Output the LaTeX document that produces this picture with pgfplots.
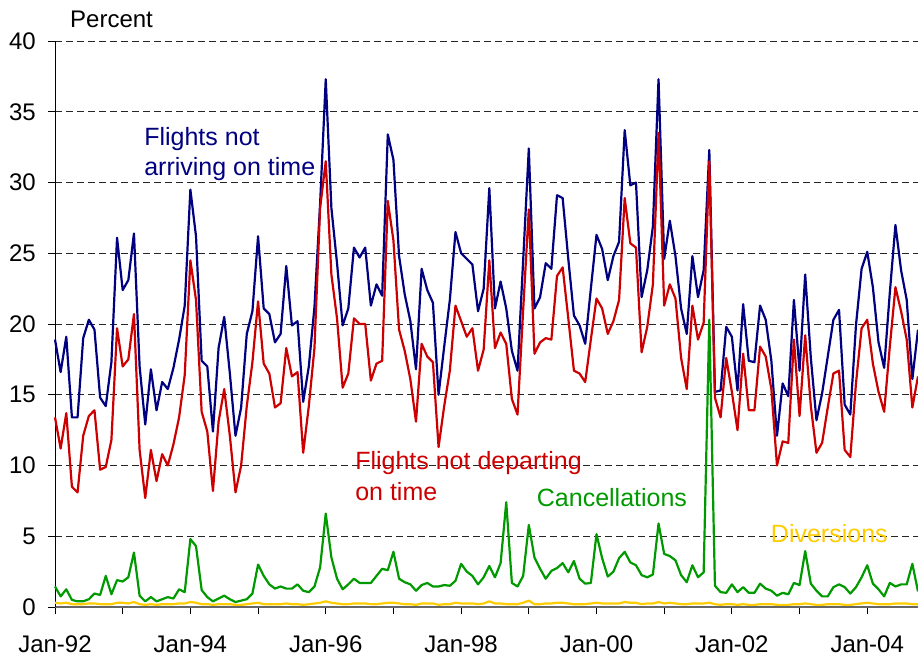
\documentclass[border=0pt]{standalone}
\usepackage{pgfplots}
\pgfplotsset{compat=1.18}
\usepackage{pgfplotstable}
\usepackage{fontspec}
\setmainfont{Liberation Sans}
\definecolor{arrc}{RGB}{0,0,128}
\definecolor{depc}{RGB}{204,0,0}
\definecolor{canc}{RGB}{0,153,0}
\definecolor{divc}{RGB}{255,204,0}

\pgfplotstableread{
arr dep can div
18.9 13.4 1.45 0.30
16.6 11.2 0.75 0.25
19.1 13.7 1.25 0.30
13.4 8.5 0.50 0.20
13.4 8.1 0.40 0.20
19.0 12.1 0.40 0.20
20.3 13.5 0.55 0.25
19.6 13.9 0.95 0.25
14.8 9.7 0.85 0.20
14.2 9.9 2.20 0.20
17.3 11.8 0.90 0.20
26.1 19.7 1.90 0.30
22.4 17.0 1.80 0.30
23.1 17.5 2.10 0.25
26.4 20.7 3.85 0.35
17.0 11.1 0.80 0.20
12.9 7.7 0.40 0.15
16.8 11.1 0.70 0.20
13.9 8.9 0.40 0.15
15.9 10.8 0.55 0.20
15.4 10.0 0.70 0.20
16.9 11.5 0.60 0.20
18.9 13.4 1.25 0.25
21.3 16.4 1.05 0.25
29.5 24.5 4.80 0.35
26.2 21.7 4.30 0.30
17.4 13.8 1.20 0.20
17.0 12.4 0.70 0.20
12.4 8.2 0.40 0.15
18.3 13.1 0.60 0.20
20.5 15.4 0.80 0.20
16.5 12.1 0.55 0.20
12.1 8.1 0.35 0.15
14.1 10.0 0.45 0.15
19.3 14.2 0.55 0.20
20.9 17.3 0.95 0.25
26.2 21.6 3.00 0.30
21.1 17.2 2.20 0.20
20.7 16.5 1.60 0.20
18.7 14.1 1.30 0.20
19.3 14.4 1.45 0.20
24.1 18.3 1.30 0.25
19.9 16.3 1.30 0.20
20.2 16.6 1.60 0.20
14.5 10.9 1.15 0.15
17.0 14.2 1.05 0.20
21.2 18.3 1.45 0.25
28.5 28.2 2.80 0.30
37.3 31.5 6.60 0.40
28.2 23.5 3.50 0.30
24.3 20.4 2.00 0.25
19.9 15.5 1.25 0.20
21.1 16.5 1.60 0.20
25.4 20.4 2.00 0.25
24.7 20.0 1.70 0.25
25.4 20.0 1.70 0.25
21.3 16.0 1.70 0.20
22.8 17.2 2.20 0.20
22.0 17.4 2.70 0.25
33.4 28.7 2.60 0.30
31.6 25.9 3.90 0.30
24.8 19.6 2.00 0.25
22.1 18.1 1.75 0.20
20.2 16.1 1.60 0.20
16.8 13.1 1.15 0.15
23.9 18.6 1.55 0.25
22.4 17.7 1.70 0.25
21.5 17.3 1.45 0.25
15.0 11.3 1.45 0.15
18.4 14.2 1.55 0.20
21.7 16.7 1.50 0.20
26.5 21.3 1.85 0.30
25.0 20.2 3.05 0.25
24.6 19.1 2.50 0.25
24.2 19.7 2.20 0.25
20.9 16.7 1.60 0.20
22.5 18.2 2.10 0.25
29.6 24.5 2.90 0.40
21.1 18.3 2.10 0.25
23.0 19.4 3.10 0.25
21.1 18.6 7.40 0.20
18.1 14.7 1.70 0.20
16.7 13.6 1.45 0.20
24.5 21.0 2.20 0.30
32.4 28.1 5.80 0.45
21.1 17.9 3.50 0.20
21.9 18.7 2.70 0.20
24.3 19.0 2.00 0.25
23.9 18.9 2.55 0.25
29.1 23.4 2.75 0.30
28.9 24.0 3.10 0.30
24.6 20.4 2.45 0.25
20.6 16.7 3.25 0.20
19.9 16.5 2.00 0.20
18.6 15.9 1.65 0.20
22.5 18.9 1.70 0.25
26.3 21.8 5.15 0.30
25.3 21.1 3.45 0.25
23.1 19.3 2.15 0.25
24.8 20.2 2.50 0.25
25.8 21.7 3.45 0.25
33.7 28.9 3.90 0.35
29.8 25.7 3.15 0.30
30.0 25.4 2.95 0.30
21.9 18.0 2.25 0.20
23.8 19.8 2.10 0.25
26.9 22.8 2.30 0.25
37.3 33.5 5.90 0.35
24.6 21.3 3.75 0.25
27.3 22.8 3.60 0.30
24.8 21.8 3.30 0.25
21.1 17.6 2.25 0.20
19.3 15.4 1.75 0.20
24.8 21.3 2.95 0.25
21.9 18.9 2.10 0.25
23.8 20.1 2.45 0.25
32.3 31.5 20.30 0.30
15.2 14.8 1.50 0.20
15.3 13.4 1.05 0.15
19.8 17.6 1.00 0.20
19.1 15.2 1.60 0.20
15.3 12.5 1.05 0.15
21.4 17.9 1.40 0.20
17.4 13.9 1.00 0.15
17.3 13.9 1.00 0.15
21.3 18.4 1.65 0.20
20.3 17.7 1.30 0.20
17.4 15.4 1.15 0.20
12.1 10.0 0.80 0.15
15.8 11.7 1.00 0.15
14.9 11.6 0.90 0.15
21.7 18.9 1.70 0.20
16.7 13.5 1.55 0.20
23.5 19.2 3.95 0.25
17.6 14.2 1.65 0.20
13.2 10.9 1.15 0.15
15.1 11.6 0.75 0.15
17.7 14.1 0.75 0.20
20.3 16.5 1.40 0.20
21.0 16.7 1.60 0.20
14.3 11.1 1.40 0.15
13.6 10.6 0.95 0.15
19.9 15.8 1.40 0.20
23.9 19.7 2.10 0.25
25.1 20.3 2.95 0.30
22.6 17.2 1.65 0.25
18.7 15.2 1.25 0.20
16.9 13.8 0.75 0.20
22.2 18.4 1.70 0.20
27.0 22.6 1.45 0.25
23.8 20.9 1.60 0.25
21.7 18.9 1.60 0.25
16.1 14.1 3.05 0.20
19.6 16.3 1.10 0.20
}\data

\begin{document}
\begin{tikzpicture}[font=\fontsize{24bp}{28bp}\selectfont]
\path[use as bounding box] (0,0) rectangle (918bp,656bp);
\begin{axis}[
  at={(55bp,49bp)}, anchor=south west,
  width=863bp, height=566bp, scale only axis,
  xmin=0, xmax=153, ymin=0, ymax=40,
  axis lines*=left,
  axis line style={black, line width=0.8bp},
  x axis line style={draw=black!60, line width=1.2bp},
  xtick={0,24,...,144},
  xticklabels={Jan-92,Jan-94,Jan-96,Jan-98,Jan-00,Jan-02,Jan-04},
  minor xtick={12,36,...,132},
  ytick={0,5,...,40},
  tick align=outside,
  major tick length=7bp, minor tick length=7bp,
  tick style={black, line width=0.8bp},
  ymajorgrids,
  major grid style={black!85, line width=0.7bp, dash pattern=on 7bp off 4bp},
  ticklabel style={font=\fontsize{24bp}{28bp}\selectfont},
  /pgf/number format/assume math mode=true,
  xticklabel style={anchor=base, inner sep=0pt, yshift=-38bp},
  yticklabel style={anchor=east, inner sep=0pt, xshift=-12bp},
  clip=false,
  every axis plot/.append style={line width=2.2bp, line join=round, no markers},
]
\addplot[arrc] table[x expr=\coordindex, y=arr] {\data};
\addplot[depc] table[x expr=\coordindex, y=dep] {\data};
\addplot[canc] table[x expr=\coordindex, y=can] {\data};
\addplot[divc] table[x expr=\coordindex, y=div] {\data};
\begin{scope}[every node/.style={anchor=base west, inner sep=0pt, font=\fontsize{25bp}{30bp}\selectfont}]
\node[text=arrc] at (axis cs:15.8,32.58) {Flights not};
\node[text=arrc] at (axis cs:15.8,30.46) {arriving on time};
\node[text=depc] at (axis cs:53.2,9.75) {Flights not departing};
\node[text=depc] at (axis cs:53.2,7.56) {on time};
\node[text=canc] at (axis cs:85.4,7.07) {Cancellations};
\node[text=divc] at (axis cs:126.9,4.59) {Diversions};
\end{scope}
\end{axis}
\node[anchor=base west, inner sep=0pt] at (70bp,628.7bp) {Percent};
\end{tikzpicture}
\end{document}
